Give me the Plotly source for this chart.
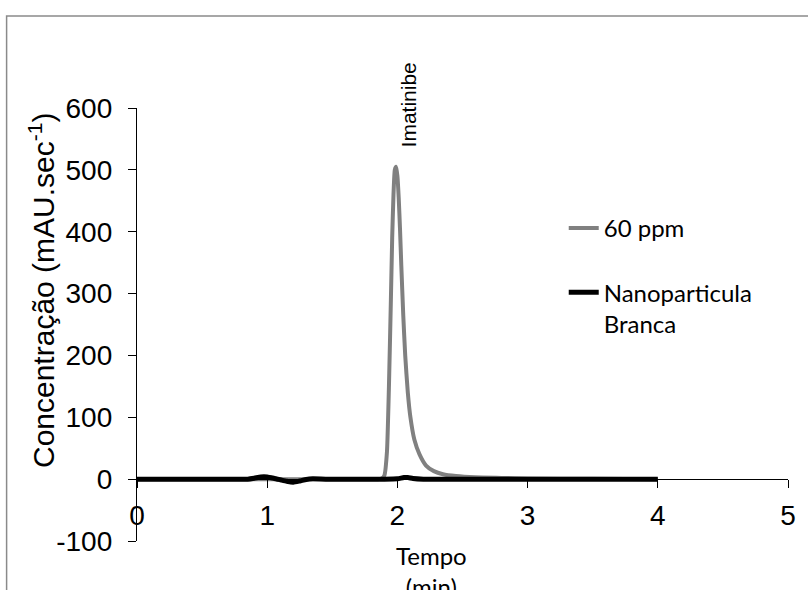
import plotly.graph_objects as go

# ---- data ----
time_60ppm = [0.0, 1.00, 1.85, 1.88, 1.90, 1.92, 1.935, 1.95, 1.96, 1.97, 1.98, 1.99, 2.00,
              2.01, 2.02, 2.03, 2.045, 2.06, 2.08, 2.10, 2.13, 2.17, 2.22, 2.28, 2.35,
              2.45, 2.60, 2.80, 3.00, 3.50, 4.00]
conc_60ppm = [0, 0, 0, 1, 6, 45, 150, 290, 390, 460, 500, 505, 490,
              455, 405, 345, 265, 200, 140, 100, 64, 40, 22, 13, 8,
              5, 3, 2, 1, 0.5, 0]

time_blank = [0.0, 0.5, 0.85, 0.90, 0.95, 1.00, 1.05, 1.10, 1.15, 1.20, 1.25, 1.30, 1.35,
              1.45, 1.6, 1.9, 2.0, 2.05, 2.08, 2.12, 2.2, 2.6, 3.0, 3.5, 4.0]
conc_blank = [0, 0, 0, 1.5, 3.5, 3.5, 1.5, -1, -3.5, -5, -3, -0.5, 0.5,
              0, 0, 0, 0.5, 2.5, 2.5, 1, 0, 0, 0, 0, 0]

x_ticks = [0, 1, 2, 3, 4, 5]
x_tick_labels = ["0", "1", "2", "3", "4", "5"]
y_ticks = [-100, 0, 100, 200, 300, 400, 500, 600]
y_tick_labels = ["-100", "0", "100", "200", "300", "400", "500", "600"]

series_names = ["60 ppm", "Nanoparticula<br>Branca"]
peak_label = "Imatinibe"
peak_label_time = 2.085
x_title = "Tempo<br>(min)"
y_title = "Concentração (mAU.sec<sup>-1</sup>)"

ARIAL = "Liberation Sans, Arial, sans-serif"
CALIBRI = "Lato, Carlito, Calibri, sans-serif"

fig = go.Figure()
fig.add_trace(go.Scatter(x=time_60ppm, y=conc_60ppm, mode="lines", name=series_names[0],
                         line=dict(color="#808080", width=4, shape="spline", smoothing=0.5),
                         legendgroup="a"))
fig.add_trace(go.Scatter(x=time_blank, y=conc_blank, mode="lines", name=series_names[1],
                         line=dict(color="black", width=5, shape="spline", smoothing=0.5),
                         legendgroup="b"))

axis_common = dict(showline=True, linecolor="black", linewidth=1.3, ticks="outside",
                   ticklen=8, tickcolor="black", tickwidth=1.3, showgrid=False,
                   zeroline=False, tickfont=dict(family=ARIAL, size=28, color="black"))

fig.update_layout(
    width=808, height=590,
    margin=dict(l=137, r=12, t=108, b=49),
    paper_bgcolor="white", plot_bgcolor="white",
    xaxis=dict(range=[0, 5], tickvals=x_ticks, ticktext=x_tick_labels, anchor="free",
               position=1 / 7, ticklabelstandoff=3, **axis_common),
    yaxis=dict(range=[-100, 600], tickvals=y_ticks, ticktext=y_tick_labels, domain=[0, 1],
               ticklabelstandoff=10, **axis_common),
    showlegend=True,
    legend=dict(x=0.6555, y=0.774, xanchor="left", yanchor="top",
                font=dict(family=CALIBRI, size=24, color="black"),
                bgcolor="rgba(0,0,0,0)", tracegroupgap=30, valign="top",
                traceorder="grouped"),
    annotations=[
        dict(text=peak_label, x=peak_label_time, y=1.007, xref="x", yref="paper",
             textangle=-90, xanchor="center", yanchor="middle",
             showarrow=False, font=dict(family=ARIAL, size=21, color="black")),
        dict(text=y_title, x=-0.147, y=0.578, xref="paper", yref="paper", textangle=-90,
             xanchor="center", yanchor="middle",
             showarrow=False, font=dict(family=ARIAL, size=30, color="black")),
        dict(text=x_title, x=0.452, y=0.005, xref="paper", yref="paper", yanchor="top",
             xanchor="center",
             showarrow=False, font=dict(family=CALIBRI, size=24, color="black")),
    ],
    shapes=[
        dict(type="rect", xref="paper", yref="paper", x0=-0.2003, y0=-1, x1=2, y1=1.2125,
             line=dict(color="#8a8a8a", width=1.5), fillcolor="rgba(0,0,0,0)", layer="below"),
    ],
)

fig.write_html("out.html")
